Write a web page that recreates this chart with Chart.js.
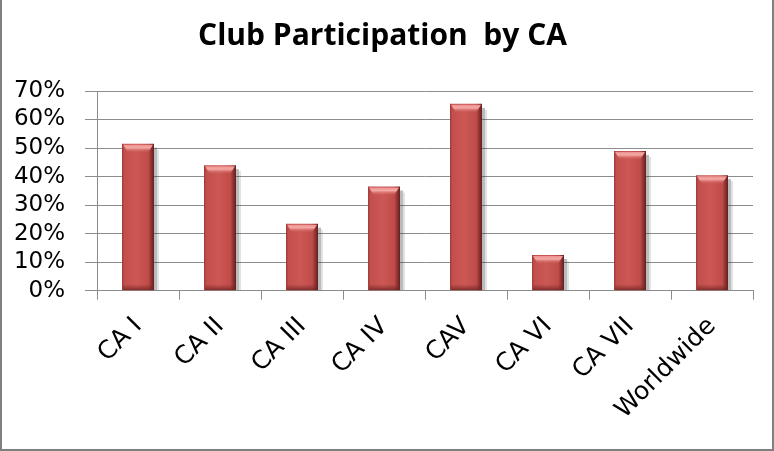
<!DOCTYPE html>
<html>
<head>
<meta charset="utf-8">
<script src="https://cdn.jsdelivr.net/npm/chart.js@4.4.0/dist/chart.umd.min.js"></script>
<style>
  html, body { margin: 0; padding: 0; background: #fff; }
  #wrap {
    width: 774px; height: 451px; box-sizing: border-box;
    border-left: 2px solid #808080; border-right: 2px solid #808080; border-bottom: 2px solid #808080;
  }
  canvas { display: block; }
</style>
</head>
<body>
<div id="wrap"><canvas id="bar-chartcanvas" width="770" height="449"></canvas></div>
<script>
// chart data
var categories = ["CA I", "CA II", "CA III", "CA IV", "CAV", "CA VI", "CA VII", "Worldwide"];
var participation = [51.5, 44, 23.5, 36.5, 65.5, 12.5, 49, 40.5];
var yTicks = [0, 10, 20, 30, 40, 50, 60, 70];

var BAR_PCT = 0.39;

// horizontal shading so the bars look rounded like the original
function barFill(c) {
    var chart = c.chart;
    var xs = chart.scales.x;
    if (!chart.chartArea || !xs) return "#c0504d";
    var cx = xs.getPixelForValue(c.dataIndex);
    var w = xs.width / categories.length * BAR_PCT;
    var g = chart.ctx.createLinearGradient(cx - w / 2, 0, cx + w / 2, 0);
    g.addColorStop(0, "#9a3a38");
    g.addColorStop(0.07, "#c24f4c");
    g.addColorStop(0.45, "#cc5855");
    g.addColorStop(0.82, "#c04c49");
    g.addColorStop(0.92, "#8c3230");
    g.addColorStop(1, "#5e1f1d");
    return g;
}

//shadow behind, bevel highlights on top
var bevel = {
    id: "bevel",
    beforeDatasetsDraw: function(chart) {
        var ctx = chart.ctx;
        var meta = chart.getDatasetMeta(0);
        ctx.save();
        meta.data.forEach(function(el) {
            var l = el.x + el.width / 2;
            ctx.fillStyle = "rgba(60,60,60,0.35)";
            ctx.fillRect(l, el.y + 4, 3, el.base - el.y - 4);
            ctx.fillStyle = "rgba(60,60,60,0.15)";
            ctx.fillRect(l + 3, el.y + 6, 2, el.base - el.y - 6);
        });
        ctx.restore();
    },
    afterDatasetsDraw: function(chart) {
        var ctx = chart.ctx;
        var meta = chart.getDatasetMeta(0);
        ctx.save();
        meta.data.forEach(function(el) {
            var l = el.x - el.width / 2, r = el.x + el.width / 2;
            // top bevel
            var g = ctx.createLinearGradient(0, el.y, 0, el.y + 9);
            g.addColorStop(0, "#e98986");
            g.addColorStop(0.45, "#f4a9a6");
            g.addColorStop(1, "rgba(204,88,85,0)");
            ctx.fillStyle = g;
            ctx.beginPath();
            ctx.moveTo(l + 1, el.y + 1);
            ctx.lineTo(r - 1, el.y + 1);
            ctx.lineTo(r - 6, el.y + 9);
            ctx.lineTo(l + 6, el.y + 9);
            ctx.closePath();
            ctx.fill();
            // bottom bevel
            var b = ctx.createLinearGradient(0, el.base - 6, 0, el.base);
            b.addColorStop(0, "rgba(120,40,38,0)");
            b.addColorStop(1, "rgba(110,36,34,0.8)");
            ctx.fillStyle = b;
            ctx.fillRect(l + 1, el.base - 6, el.width - 2, 6);
        });
        ctx.restore();
    }
};

var ctx = document.getElementById("bar-chartcanvas");

var data = {
    labels: categories,
    datasets: [{
        label: "Club Participation",
        data: participation,
        backgroundColor: barFill,
        borderWidth: 0,
        barPercentage: BAR_PCT,
        categoryPercentage: 1
    }]
};

var options = {
    responsive: false,
    animation: false,
    layout: { padding: { left: 10, right: 19, top: 0, bottom: 12 } },
    plugins: {
        legend: { display: false },
        tooltip: { enabled: false },
        title: {
            display: true,
            text: "Club Participation  by CA",
            color: "#000",
            font: { family: "'Open Sans'", size: 30, weight: "bold" },
            padding: { top: 18, bottom: 37 }
        }
    },
    scales: {
        x: {
            grid: { drawOnChartArea: false, drawTicks: true, tickLength: 9, color: "#8c8c8c" },
            border: { color: "#8c8c8c" },
            ticks: {
                color: "#000",
                font: { family: "'DejaVu Sans'", size: 25 },
                maxRotation: 45,
                minRotation: 45,
                padding: 12
            }
        },
        y: {
            min: 0,
            max: 70,
            afterBuildTicks: function(axis) {
                axis.ticks = yTicks.map(function(v) { return { value: v }; });
            },
            afterFit: function(axis) { axis.width = 85; },
            grid: { color: "#8c8c8c", tickLength: 12 },
            border: { color: "#8c8c8c" },
            ticks: {
                color: "#000",
                autoSkip: false,
                font: { family: "'DejaVu Sans'", size: 23 },
                padding: 20,
                callback: function(v) { return v + "%"; }
            }
        }
    }
};

var chart = new Chart(ctx, {
    type: "bar",
    data: data,
    options: options,
    plugins: [bevel]
});
</script>
</body>
</html>
